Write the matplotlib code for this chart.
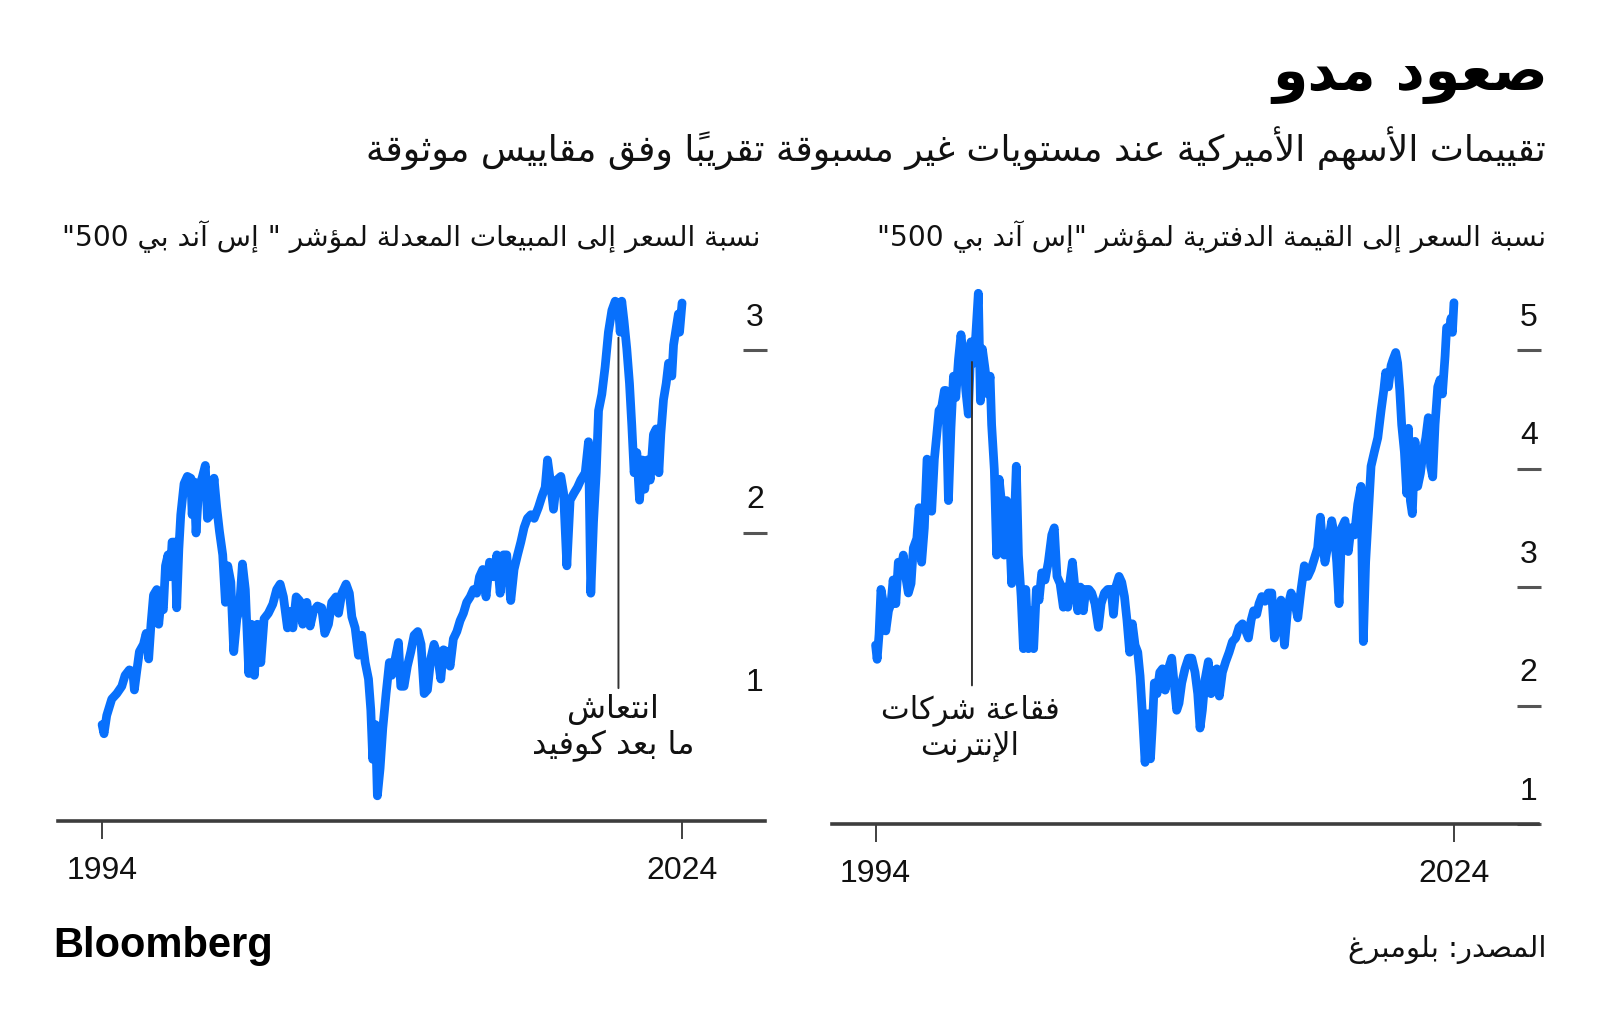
import matplotlib
matplotlib.use("Agg")
import matplotlib.pyplot as plt
import matplotlib.transforms as mtransforms

# ---- data ----
ps_years = [1994.00, 1994.10, 1994.24, 1994.50, 1994.76, 1995.02, 1995.19, 1995.41, 1995.59, 1995.67,
            1995.79, 1995.93, 1996.14, 1996.28, 1996.41, 1996.53, 1996.66, 1996.83, 1996.93, 1997.03,
            1997.17, 1997.28, 1997.41, 1997.52, 1997.62, 1997.76, 1997.86, 1997.97, 1998.07, 1998.24,
            1998.41, 1998.59, 1998.66, 1998.76, 1998.86, 1999.00, 1999.17, 1999.34, 1999.45, 1999.62,
            1999.79, 1999.93, 2000.07, 2000.24, 2000.38, 2000.50, 2000.66, 2000.81, 2000.97, 2001.10,
            2001.26, 2001.41, 2001.59, 2001.72, 2001.88, 2002.03, 2002.21, 2002.38, 2002.60, 2002.83,
            2003.03, 2003.21, 2003.38, 2003.59, 2003.73, 2003.87, 2004.04, 2004.21, 2004.38, 2004.59,
            2004.76, 2004.93, 2005.14, 2005.36, 2005.52, 2005.71, 2005.88, 2006.10, 2006.23, 2006.40,
            2006.62, 2006.79, 2006.92, 2007.09, 2007.26, 2007.43, 2007.61, 2007.78, 2007.90, 2008.00,
            2008.14, 2008.24, 2008.38, 2008.52, 2008.69, 2008.86, 2008.98, 2009.16, 2009.33, 2009.45,
            2009.62, 2009.79, 2009.97, 2010.14, 2010.33, 2010.50, 2010.66, 2010.83, 2011.00, 2011.17,
            2011.35, 2011.52, 2011.66, 2011.83, 2012.00, 2012.17, 2012.35, 2012.52, 2012.69, 2012.86,
            2013.04, 2013.21, 2013.38, 2013.52, 2013.69, 2013.86, 2014.04, 2014.24, 2014.42, 2014.59,
            2014.76, 2014.93, 2015.14, 2015.31, 2015.49, 2015.66, 2015.83, 2016.00, 2016.18, 2016.35,
            2016.57, 2016.75, 2016.92, 2017.04, 2017.18, 2017.35, 2017.52, 2017.73, 2017.87, 2018.04,
            2018.21, 2018.42, 2018.59, 2018.76, 2018.99, 2019.16, 2019.28, 2019.42, 2019.56, 2019.68,
            2019.85, 2020.02, 2020.19, 2020.37, 2020.54, 2020.71, 2020.80, 2020.88, 2021.00, 2021.14,
            2021.28, 2021.40, 2021.52, 2021.66, 2021.80, 2021.94, 2022.07, 2022.21, 2022.35, 2022.52,
            2022.66, 2022.80, 2022.90, 2023.04, 2023.18, 2023.30, 2023.47, 2023.56, 2023.69, 2023.81,
            2023.87, 2024.00]
ps_values = [0.95, 0.90, 1.00, 1.09, 1.12, 1.16, 1.22, 1.25, 1.24, 1.14,
             1.24, 1.35, 1.39, 1.45, 1.31, 1.50, 1.66, 1.69, 1.50, 1.61,
             1.58, 1.82, 1.88, 1.76, 1.95, 1.95, 1.59, 1.91, 2.10, 2.27,
             2.31, 2.30, 2.10, 2.28, 2.00, 2.25, 2.30, 2.37, 2.08, 2.10,
             2.30, 2.14, 2.01, 1.88, 1.62, 1.82, 1.73, 1.35, 1.53, 1.58,
             1.83, 1.69, 1.23, 1.50, 1.22, 1.50, 1.29, 1.53, 1.56, 1.61,
             1.69, 1.72, 1.65, 1.48, 1.57, 1.48, 1.65, 1.63, 1.50, 1.62,
             1.49, 1.57, 1.60, 1.59, 1.45, 1.50, 1.62, 1.65, 1.56, 1.67,
             1.72, 1.67, 1.54, 1.48, 1.33, 1.44, 1.29, 1.20, 1.03, 0.76,
             0.95, 0.56, 0.71, 0.93, 1.12, 1.29, 1.22, 1.31, 1.40, 1.16,
             1.16, 1.27, 1.35, 1.44, 1.46, 1.39, 1.12, 1.14, 1.31, 1.39,
             1.33, 1.20, 1.36, 1.35, 1.27, 1.42, 1.46, 1.52, 1.56, 1.62,
             1.65, 1.69, 1.67, 1.76, 1.80, 1.65, 1.84, 1.76, 1.88, 1.67,
             1.88, 1.88, 1.63, 1.80, 1.88, 1.95, 2.03, 2.08, 2.10, 2.08,
             2.14, 2.20, 2.25, 2.40, 2.29, 2.13, 2.29, 2.31, 2.22, 1.82,
             2.18, 2.22, 2.25, 2.29, 2.33, 2.50, 1.67, 2.06, 2.33, 2.67,
             2.76, 2.91, 3.10, 3.22, 3.27, 3.24, 3.10, 3.27, 3.16, 3.01,
             2.82, 2.59, 2.33, 2.44, 2.18, 2.40, 2.24, 2.40, 2.29, 2.54,
             2.57, 2.33, 2.54, 2.73, 2.82, 2.93, 2.86, 3.03, 3.12, 3.20,
             3.10, 3.26]

pb_years = [1994.00, 1994.08, 1994.18, 1994.28, 1994.41, 1994.53, 1994.67, 1994.80, 1994.91, 1995.05,
            1995.18, 1995.32, 1995.44, 1995.56, 1995.70, 1995.84, 1995.96, 1996.14, 1996.26, 1996.39,
            1996.53, 1996.67, 1996.81, 1996.91, 1997.05, 1997.17, 1997.29, 1997.43, 1997.57, 1997.64,
            1997.78, 1997.91, 1998.04, 1998.16, 1998.30, 1998.43, 1998.57, 1998.68, 1998.81, 1998.95,
            1999.09, 1999.20, 1999.33, 1999.44, 1999.54, 1999.68, 1999.82, 1999.94, 2000.02, 2000.16,
            2000.28, 2000.41, 2000.54, 2000.68, 2000.80, 2000.92, 2001.06, 2001.20, 2001.30, 2001.41,
            2001.55, 2001.67, 2001.79, 2001.93, 2002.07, 2002.20, 2002.34, 2002.48, 2002.62, 2002.79,
            2002.96, 2003.14, 2003.27, 2003.41, 2003.57, 2003.74, 2003.83, 2003.97, 2004.09, 2004.21,
            2004.35, 2004.49, 2004.62, 2004.78, 2004.90, 2005.07, 2005.21, 2005.38, 2005.56, 2005.70,
            2005.87, 2006.04, 2006.22, 2006.34, 2006.46, 2006.63, 2006.77, 2006.91, 2007.04, 2007.18,
            2007.32, 2007.46, 2007.60, 2007.72, 2007.84, 2007.98, 2008.12, 2008.26, 2008.36, 2008.46,
            2008.60, 2008.74, 2008.88, 2009.02, 2009.19, 2009.36, 2009.50, 2009.62, 2009.74, 2009.88,
            2010.05, 2010.23, 2010.40, 2010.57, 2010.71, 2010.83, 2010.95, 2011.09, 2011.26, 2011.40,
            2011.54, 2011.70, 2011.83, 2011.99, 2012.16, 2012.34, 2012.51, 2012.68, 2012.85, 2013.03,
            2013.20, 2013.34, 2013.48, 2013.61, 2013.77, 2013.89, 2014.03, 2014.20, 2014.37, 2014.55,
            2014.69, 2014.86, 2015.03, 2015.21, 2015.38, 2015.55, 2015.72, 2015.90, 2016.07, 2016.24,
            2016.42, 2016.59, 2016.76, 2016.93, 2017.07, 2017.18, 2017.31, 2017.49, 2017.66, 2017.80,
            2017.92, 2018.04, 2018.18, 2018.35, 2018.52, 2018.66, 2018.84, 2019.01, 2019.18, 2019.30,
            2019.42, 2019.56, 2019.70, 2019.87, 2020.05, 2020.22, 2020.36, 2020.46, 2020.60, 2020.74,
            2020.84, 2020.98, 2021.08, 2021.19, 2021.29, 2021.43, 2021.55, 2021.64, 2021.74, 2021.84,
            2021.98, 2022.12, 2022.26, 2022.40, 2022.54, 2022.67, 2022.79, 2022.90, 2023.02, 2023.16,
            2023.28, 2023.40, 2023.54, 2023.62, 2023.75, 2023.85, 2023.92, 2024.00]
pb_values = [2.51, 2.39, 2.60, 2.98, 2.86, 2.63, 2.80, 2.86, 3.06, 2.86,
             3.21, 3.15, 3.27, 3.09, 2.95, 3.03, 3.33, 3.41, 3.67, 3.21,
             3.50, 4.08, 4.02, 3.64, 4.08, 4.28, 4.49, 4.52, 4.66, 4.66,
             3.73, 4.34, 4.78, 4.60, 4.92, 5.13, 4.92, 4.66, 4.46, 5.07,
             4.89, 5.13, 5.48, 4.57, 5.01, 4.84, 4.63, 4.78, 4.37, 3.99,
             3.27, 3.91, 3.70, 3.27, 3.73, 3.56, 3.03, 3.56, 4.02, 3.27,
             2.92, 2.48, 2.98, 2.48, 2.80, 2.48, 2.98, 2.89, 3.12, 3.06,
             3.21, 3.44, 3.50, 3.09, 3.03, 2.83, 3.00, 2.83, 3.06, 3.21,
             2.98, 2.80, 3.00, 2.80, 2.98, 2.98, 2.95, 2.86, 2.66, 2.86,
             2.95, 2.98, 2.98, 2.77, 3.00, 3.09, 3.04, 2.92, 2.72, 2.45,
             2.69, 2.51, 2.45, 2.25, 1.93, 1.52, 1.93, 1.55, 1.84, 2.19,
             2.10, 2.28, 2.31, 2.13, 2.31, 2.40, 2.16, 1.96, 2.02, 2.19,
             2.31, 2.40, 2.40, 2.28, 2.10, 1.81, 1.96, 2.22, 2.37, 2.10,
             2.28, 2.31, 2.08, 2.28, 2.37, 2.45, 2.54, 2.57, 2.66, 2.69,
             2.63, 2.57, 2.72, 2.80, 2.77, 2.86, 2.92, 2.88, 2.95, 2.95,
             2.57, 2.69, 2.89, 2.51, 2.83, 2.95, 2.89, 2.74, 2.98, 3.18,
             3.09, 3.15, 3.24, 3.33, 3.59, 3.38, 3.21, 3.38, 3.56, 3.44,
             3.21, 2.86, 3.50, 3.56, 3.30, 3.50, 3.44, 3.70, 3.85, 2.54,
             3.21, 3.62, 4.02, 4.14, 4.26, 4.49, 4.66, 4.81, 4.69, 4.87,
             4.92, 4.98, 4.89, 4.66, 4.37, 4.14, 3.79, 4.34, 3.73, 3.62,
             4.23, 3.85, 3.96, 4.14, 4.26, 4.43, 4.02, 3.93, 4.37, 4.69,
             4.75, 4.63, 4.95, 5.19, 5.16, 5.27, 5.15, 5.40]

year_ticks = [1994, 2024]
ps_ticks = [1, 2, 3]
pb_ticks = [1, 2, 3, 4, 5]

title = "صعود مدو"
subtitle = "تقييمات الأسهم الأميركية عند مستويات غير مسبوقة تقريباً وفق مقاييس موثوقة"
ps_title = "نسبة السعر إلى المبيعات المعدلة لمؤشر \" إس آند بي 500\""
pb_title = "نسبة السعر إلى القيمة الدفترية لمؤشر \"إس آند بي 500\""
ps_note = "انتعاش\nما بعد كوفيد"
pb_note = "فقاعة شركات\nالإنترنت"
source = "المصدر: بلومبرغ"

# ---- minimal Arabic shaping (matplotlib has no shaping / bidi) ----
_RIGHT = {'\u0622': 0xFE81, '\u0623': 0xFE83, '\u0624': 0xFE85, '\u0625': 0xFE87,
          '\u0627': 0xFE8D, '\u0629': 0xFE93, '\u062F': 0xFEA9, '\u0630': 0xFEAB,
          '\u0631': 0xFEAD, '\u0632': 0xFEAF, '\u0648': 0xFEED, '\u0649': 0xFEEF}
_DUAL = {'\u0626': 0xFE89, '\u0628': 0xFE8F, '\u062A': 0xFE95, '\u062B': 0xFE99,
         '\u062C': 0xFE9D, '\u062D': 0xFEA1, '\u062E': 0xFEA5, '\u0633': 0xFEB1,
         '\u0634': 0xFEB5, '\u0635': 0xFEB9, '\u0636': 0xFEBD, '\u0637': 0xFEC1,
         '\u0638': 0xFEC5, '\u0639': 0xFEC9, '\u063A': 0xFECD, '\u0641': 0xFED1,
         '\u0642': 0xFED5, '\u0643': 0xFED9, '\u0644': 0xFEDD, '\u0645': 0xFEE1,
         '\u0646': 0xFEE5, '\u0647': 0xFEE9, '\u064A': 0xFEF1}
_LAM_ALEF = {'\u0622': 0xFEF5, '\u0623': 0xFEF7, '\u0625': 0xFEF9, '\u0627': 0xFEFB}
_MARKS = set(chr(c) for c in range(0x064B, 0x0653))


def _shape_line(text):
    chars = list(text)
    n = len(chars)

    def neighbour(i, step):
        j = i + step
        while 0 <= j < n and chars[j] in _MARKS:
            j += step
        return chars[j] if 0 <= j < n else ''

    units = []
    i = 0
    while i < n:
        c = chars[i]
        if c in _MARKS:
            units[-1] += c
            i += 1
            continue
        joins_prev = neighbour(i, -1) in _DUAL and (c in _DUAL or c in _RIGHT)
        nxt = neighbour(i, 1)
        if c == '\u0644' and nxt in _LAM_ALEF:
            units.append(chr(_LAM_ALEF[nxt] + (1 if joins_prev else 0)))
            j = i + 1
            while chars[j] in _MARKS:
                j += 1
            i = j + 1
            continue
        if c in _DUAL:
            joins_next = nxt in _DUAL or nxt in _RIGHT
            form = (3 if joins_next else 1) if joins_prev else (2 if joins_next else 0)
            units.append(chr(_DUAL[c] + form))
        elif c in _RIGHT:
            units.append(chr(_RIGHT[c] + (1 if joins_prev else 0)))
        else:
            units.append(c)
        i += 1

    # visual order: reverse, but keep runs of latin letters / digits left-to-right
    runs = []
    for u in units:
        ltr = u.isascii() and u.isalnum()
        if ltr and runs and runs[-1][0]:
            runs[-1][1] += u
        else:
            runs.append([ltr, u])
    return ''.join(r[1] for r in reversed(runs))


def ar(text):
    return '\n'.join(_shape_line(line) for line in text.split('\n'))


# ---- figure ----
W, H = 1600, 1024
fig = plt.figure(figsize=(16, 10.24), dpi=100)
fig.patch.set_facecolor('white')

BLUE = '#0870fc'
AR_FONT = ['DejaVu Sans']
NUM_FONT = ['Liberation Sans', 'DejaVu Sans']


def px_axes(x0, x1, y_top, y_bot):
    return fig.add_axes([x0 / W, 1 - y_bot / H, (x1 - x0) / W, (y_bot - y_top) / H])


ax_ps = px_axes(58, 765, 280, 821)
ax_pb = px_axes(832, 1538, 280, 824)

panels = [
    (ax_ps, ps_years, ps_values, ps_ticks, (1991.72, 2028.29), (0.422, 3.386), 2027.78),
    (ax_pb, pb_years, pb_values, pb_ticks, (1991.74, 2028.36), (1.0, 5.592), 2027.89),
]

for ax, xs, ys, yt, xl, yl, spine_x in panels:
    ax.plot(xs, ys, color=BLUE, lw=6.3, solid_joinstyle='round', solid_capstyle='round', zorder=2)
    ax.set_xlim(*xl)
    ax.set_ylim(*yl)
    for s in ['top', 'left']:
        ax.spines[s].set_visible(False)
    ax.spines['bottom'].set_linewidth(2.6)
    ax.spines['bottom'].set_color('#3d3d3d')
    ax.spines['right'].set_position(('data', spine_x))
    ax.spines['right'].set_visible(False)
    ax.set_facecolor('none')

    ax.set_xticks(year_ticks)
    ax.set_xticklabels([str(y) for y in year_ticks], fontfamily=NUM_FONT)
    ax.tick_params(axis='x', direction='out', length=13, width=1.3, color='#333333',
                   pad=12, labelsize=23, labelcolor='#111111')

    ax.yaxis.tick_right()
    ax.set_yticks(yt)
    ax.set_yticklabels([str(v) for v in yt], fontfamily=NUM_FONT)
    ax.tick_params(axis='y', direction='inout', length=17, width=2.2, color='#555555',
                   pad=0, labelsize=23, labelcolor='#111111')
    shift = mtransforms.ScaledTranslation(-0.12, 0.325, fig.dpi_scale_trans)
    for t in ax.yaxis.get_major_ticks():
        t.label2.set_horizontalalignment('center')
        t.label2.set_verticalalignment('center')
        t.label2.set_transform(t.label2.get_transform() + shift)

# the "1" dash of the left panel is hidden in the reference
ax_ps.yaxis.get_major_ticks()[0].tick2line.set_visible(False)

# annotations
ax_ps.annotate('', xy=(2020.71, 3.07), xytext=(2020.71, 1.15),
               arrowprops=dict(arrowstyle='-', color='#333333', lw=1.4, shrinkA=0, shrinkB=0), zorder=3)
ax_ps.text(2020.45, 0.93, ar(ps_note), ha='center', va='center', fontsize=23,
           fontfamily=AR_FONT, color='#111111', linespacing=1.2)
ax_pb.annotate('', xy=(1999.0, 4.90), xytext=(1999.0, 2.17),
               arrowprops=dict(arrowstyle='-', color='#333333', lw=1.4, shrinkA=0, shrinkB=0), zorder=3)
ax_pb.text(1998.9, 1.81, ar(pb_note), ha='center', va='center', fontsize=22,
           fontfamily=AR_FONT, color='#111111', linespacing=1.2)

# headings
fig.text(1548 / W, 1 - 76 / H, ar(title), ha='right', va='center', fontsize=41,
         fontweight='bold', fontfamily=AR_FONT, color='#000000')
fig.text(1546 / W, 1 - 148 / H, ar(subtitle), ha='right', va='center', fontsize=26,
         fontfamily=AR_FONT, color='#111111')
fig.text(760 / W, 1 - 237 / H, ar(ps_title), ha='right', va='center', fontsize=20.2,
         fontfamily=AR_FONT, color='#111111')
fig.text(1546 / W, 1 - 237 / H, ar(pb_title), ha='right', va='center', fontsize=20.2,
         fontfamily=AR_FONT, color='#111111')

# footer
fig.text(53 / W, 1 - 946 / H, 'Bloomberg', ha='left', va='center', fontsize=30,
         fontweight='bold', fontfamily=NUM_FONT, color='#000000')
fig.text(1546 / W, 1 - 949 / H, ar(source), ha='right', va='center', fontsize=21,
         fontfamily=AR_FONT, color='#111111')

fig.savefig('out.png', dpi=100, facecolor='white')
